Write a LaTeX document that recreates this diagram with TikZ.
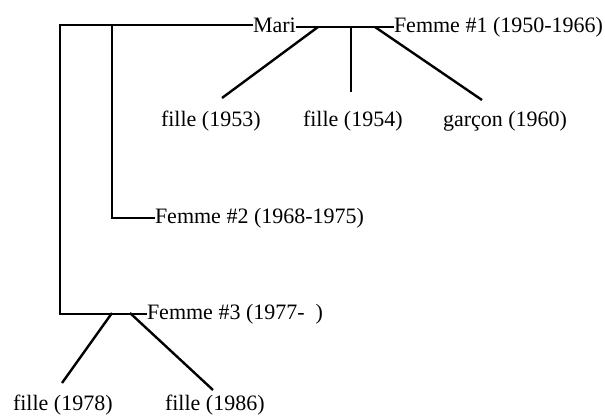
\documentclass[tikz,border=0pt]{standalone}
\usepackage{fontspec}
\setmainfont{Liberation Serif}
\begin{document}
\begin{tikzpicture}[x=1pt,y=-1pt,
  lab/.style={inner sep=0pt,outer sep=0pt,anchor=base west,font=\fontsize{22}{26}\selectfont},
  tie/.style={line width=1.8pt},
  kid/.style={line width=2.4pt}]
\useasboundingbox (0,0) rectangle (605,415);
% names
\node[lab] (mari) at (253,32) {Mari};
\node[lab] (f1) at (394,32) {Femme \#1 (1950-1966)};
\node[lab] (f2) at (155,223) {Femme \#2 (1968-1975)};
\node[lab] (f3) at (147,319) {Femme \#3 (1977-\ \ )};
\node[lab] (k1) at (161,126) {fille (1953)};
\node[lab] (k2) at (303,126) {fille (1954)};
\node[lab] (k3) at (443,126) {garçon (1960)};
\node[lab] (k4) at (13,410) {fille (1978)};
\node[lab] (k5) at (165,410) {fille (1986)};
% junctions
\coordinate (tl) at (60,25);
\coordinate (j2) at (112,25);
\coordinate (c1) at (318,27);
\coordinate (c2) at (351,27);
\coordinate (c3) at (375,27);
\coordinate (d1) at (112,313);
\coordinate (d2) at (130,313);
\coordinate (e1) at (222,98);
\coordinate (e2) at (351,92);
\coordinate (e3) at (482,100);
\coordinate (e4) at (62,383);
\coordinate (e5) at (213,390);
% ties
\draw[tie] (mari.west) -- (mari.west -| tl) |- (f3.west);
\draw[tie] (j2) |- (f2.west);
\draw[tie] (mari.east |- c1) -- (f1.west |- c1);
% children
\draw[kid] (c1) -- (e1);
\draw[kid] (c2) -- (e2);
\draw[kid] (c3) -- (e3);
\draw[kid] (d1) -- (e4);
\draw[kid] (d2) -- (e5);
\end{tikzpicture}
\end{document}
